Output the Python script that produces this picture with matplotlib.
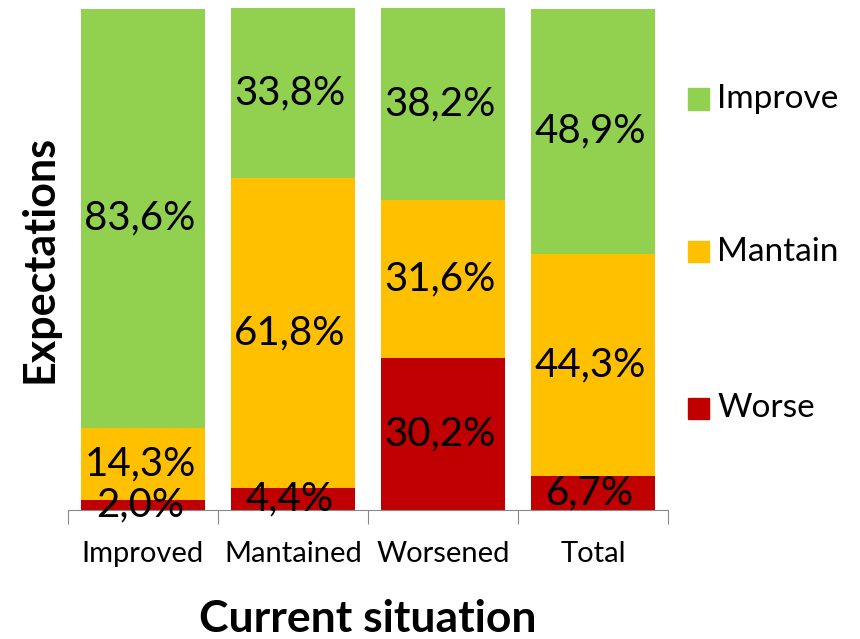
import matplotlib
matplotlib.use("Agg")
import matplotlib.pyplot as plt
from matplotlib.patches import Patch

plt.rcParams['font.family'] = ['Lato', 'DejaVu Sans']

situations = ['Improved', 'Mantained', 'Worsened', 'Total']
worse = [2.0, 4.4, 30.2, 6.7]
mantain = [14.3, 61.8, 31.6, 44.3]
improve = [83.6, 33.8, 38.2, 48.9]

series = [('Worse', worse, '#C00000'),
          ('Mantain', mantain, '#FFC000'),
          ('Improve', improve, '#92D050')]

fig = plt.figure(figsize=(8.6, 6.39), dpi=100)
ax = fig.add_axes([68/860, 1 - 510/639, 600/860, 502/639])

x = list(range(len(situations)))
bottom = [0.0] * len(situations)
for name, vals, col in series:
    ax.bar(x, vals, width=0.833, bottom=bottom, color=col, label=name)
    for i, v in enumerate(vals):
        lbl = ('%.1f%%' % v).replace('.', ',')
        ax.text(x[i] - 0.02, bottom[i] + v / 2, lbl, ha='center', va='center',
                fontsize=29, color='black')
    bottom = [b + v for b, v in zip(bottom, vals)]

ax.set_xlim(-0.5, 3.5)
ax.set_ylim(0, 100)
ax.set_yticks([])
for s in ['top', 'right', 'left']:
    ax.spines[s].set_visible(False)
ax.spines['bottom'].set_color('#888888')

# ticks sit between categories, labels under the bars
ax.set_xticks([-0.5, 0.5, 1.5, 2.5, 3.5])
ax.set_xticklabels([])
ax.tick_params(axis='x', which='major', length=10, color='#888888')
ax.set_xticks(x, minor=True)
ax.set_xticklabels(situations, minor=True, fontsize=21)
ax.tick_params(axis='x', which='minor', length=0, pad=22)

ax.set_xlabel('Current situation', fontsize=32, fontweight='bold', labelpad=23)
ax.set_ylabel('Expectations', fontsize=31, fontweight='bold', labelpad=6)

# legend laid out by hand, spread down the right side
handles = [Patch(color=c) for _, _, c in series[::-1]]
names = [n for n, _, _ in series[::-1]]
for h, n, ypix in zip(handles, names, [99, 252, 408]):
    yf = 1 - ypix / 639
    fig.patches.append(plt.Rectangle((688/860, yf - 10.5/639), 21/860, 21/639,
                                     transform=fig.transFigure,
                                     color=h.get_facecolor(), figure=fig))
    fig.text(717/860, yf, n, fontsize=24, va='center', ha='left')

fig.savefig('out.png', dpi=100)
